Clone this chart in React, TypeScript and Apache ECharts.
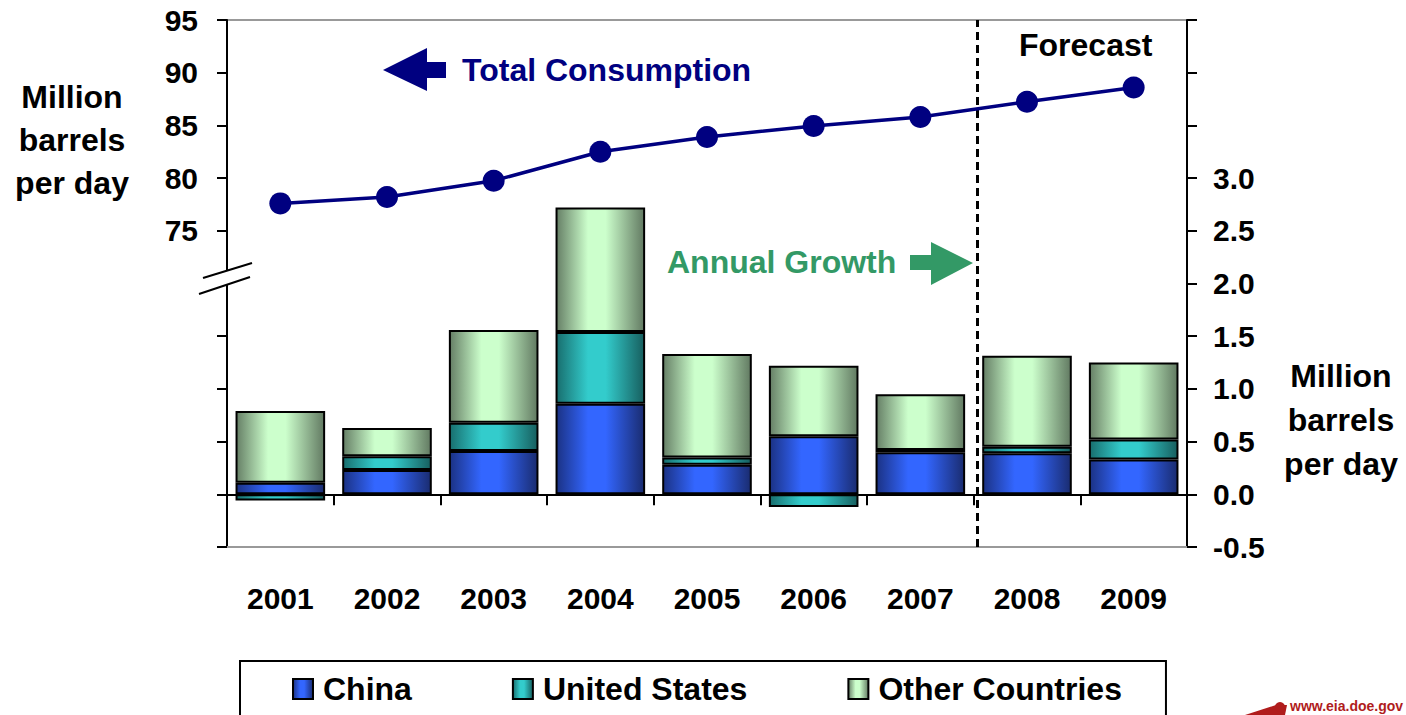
import React, { useEffect, useRef } from "react";
import * as echarts from "echarts";

// ---- data ----
const years = ["2001", "2002", "2003", "2004", "2005", "2006", "2007", "2008", "2009"];
const totalConsumption = [77.6, 78.2, 79.75, 82.5, 83.9, 84.95, 85.8, 87.25, 88.6];
const china = [0.11, 0.23, 0.41, 0.86, 0.28, 0.55, 0.4, 0.39, 0.33];
const unitedStates = [-0.06, 0.13, 0.27, 0.68, 0.07, -0.12, 0.02, 0.06, 0.19];
const otherCountries = [0.68, 0.27, 0.88, 1.18, 0.98, 0.67, 0.53, 0.865, 0.73];
const legendNames = ["China", "United States", "Other Countries"];
const leftAxis = [45, 95, 5]; // min, max, interval
const leftLabelFrom = 75;
const rightAxis = [-0.5, 4.5, 0.5];
const rightLabelTo = 3.0;
const forecastBoundary = 7.03; // between 2007 and 2008 (category units)

const FONT = '"Liberation Sans", Arial, sans-serif';

const grad = (l: string, m: string, r: string) =>
  new echarts.graphic.LinearGradient(0, 0, 1, 0, [
    { offset: 0, color: l },
    { offset: 0.36, color: m },
    { offset: 0.56, color: m },
    { offset: 1, color: r },
  ]);

export default function App() {
  const ref = useRef<HTMLDivElement>(null);
  useEffect(() => {
    if (!ref.current) return;
    const chart = echarts.init(ref.current, null, { renderer: "svg" });
    const barBase = {
      type: "bar",
      stack: "growth",
      xAxisIndex: 0,
      yAxisIndex: 1,
      barWidth: "84%",
    };
    const option: any = {
      animation: false,
      textStyle: { fontFamily: FONT },
      grid: {
        left: 227,
        right: 219,
        top: 20,
        bottom: 168,
        show: true,
        borderColor: "#999",
        borderWidth: 2,
        backgroundColor: "transparent",
      },
      legend: {
        data: legendNames,
        left: 240,
        top: 661,
        orient: "horizontal",
        icon: "rect",
        itemWidth: 20,
        itemHeight: 20,
        itemGap: 100,
        padding: [12, 44, 40, 52],
        borderColor: "#000",
        borderWidth: 2,
        selectedMode: false,
        textStyle: {
          fontSize: 32,
          fontWeight: "bold",
          color: "#000",
          fontFamily: FONT,
          padding: [0, 0, 0, 5],
        },
      },
      xAxis: [
        {
          type: "category",
          data: years,
          position: "bottom",
          axisLine: { onZero: true, onZeroAxisIndex: 1, lineStyle: { color: "#000", width: 2 } },
          axisTick: { show: true, inside: false, length: 11, lineStyle: { color: "#000", width: 2 } },
          axisLabel: { show: false },
          splitLine: { show: false },
        },
        {
          type: "category",
          data: years,
          position: "bottom",
          axisLine: { onZero: false, lineStyle: { color: "#999", width: 2 } },
          axisTick: { show: false },
          axisLabel: {
            show: true,
            margin: 36,
            fontSize: 30,
            fontWeight: "bold",
            color: "#000",
            fontFamily: FONT,
          },
          splitLine: { show: false },
        },
        { type: "value", min: 0, max: 9, show: false },
      ],
      yAxis: [
        {
          type: "value",
          position: "left",
          min: leftAxis[0],
          max: leftAxis[1],
          interval: leftAxis[2],
          axisLine: { show: true, lineStyle: { color: "#000", width: 2 } },
          axisTick: { show: true, length: 10, lineStyle: { color: "#000", width: 2 } },
          splitLine: { show: false },
          axisLabel: {
            margin: 29,
            fontSize: 30,
            fontWeight: "bold",
            color: "#000",
            fontFamily: FONT,
            formatter: (v: number) => (v >= leftLabelFrom ? String(v) : ""),
          },
        },
        {
          type: "value",
          position: "right",
          min: rightAxis[0],
          max: rightAxis[1],
          interval: rightAxis[2],
          axisLine: { show: true, lineStyle: { color: "#000", width: 2 } },
          axisTick: { show: true, length: 10, lineStyle: { color: "#000", width: 2 } },
          splitLine: { show: false },
          axisLabel: {
            margin: 26,
            fontSize: 30,
            fontWeight: "bold",
            color: "#000",
            fontFamily: FONT,
            formatter: (v: number) => (v <= rightLabelTo + 1e-9 ? v.toFixed(1) : ""),
          },
        },
      ],
      series: [
        {
          ...barBase,
          name: "China",
          data: china,
          itemStyle: { color: grad("#1b3284", "#3366ff", "#1a2c70"), borderColor: "#000", borderWidth: 2 },
        },
        {
          ...barBase,
          name: "United States",
          data: unitedStates,
          itemStyle: { color: grad("#186e6e", "#33cccc", "#175f5f"), borderColor: "#000", borderWidth: 2 },
        },
        {
          ...barBase,
          name: "Other Countries",
          data: otherCountries,
          itemStyle: { color: grad("#667f66", "#ccffcc", "#627a62"), borderColor: "#000", borderWidth: 2 },
        },
        {
          type: "line",
          name: "Total Consumption",
          xAxisIndex: 0,
          yAxisIndex: 0,
          data: totalConsumption,
          symbol: "circle",
          symbolSize: 22,
          lineStyle: { color: "#000080", width: 3.5 },
          itemStyle: { color: "#000080" },
          z: 5,
        },
        {
          type: "line",
          name: "forecastLine",
          xAxisIndex: 2,
          yAxisIndex: 1,
          data: [],
          z: 6,
          markLine: {
            silent: true,
            symbol: "none",
            label: { show: false },
            lineStyle: { color: "#000", width: 3, type: [8, 5] },
            data: [{ xAxis: forecastBoundary }],
          },
        },
      ],
      graphic: [
        // axis break
        {
          type: "polygon",
          z: 100,
          shape: { points: [[203, 278], [252, 263], [250, 277], [199, 294]] },
          style: { fill: "#fff", stroke: "none" },
        },
        { type: "line", z: 101, shape: { x1: 203, y1: 278, x2: 252, y2: 263 }, style: { stroke: "#000", lineWidth: 2 } },
        { type: "line", z: 101, shape: { x1: 199, y1: 294, x2: 250, y2: 277 }, style: { stroke: "#000", lineWidth: 2 } },
        // arrows
        {
          type: "polygon",
          z: 50,
          shape: { points: [[383, 70], [427, 48], [427, 62], [446, 62], [446, 78], [427, 78], [427, 91]] },
          style: { fill: "#000080" },
        },
        {
          type: "polygon",
          z: 50,
          shape: { points: [[973, 263], [931, 242], [931, 255], [910, 255], [910, 270], [931, 270], [931, 285]] },
          style: { fill: "#339966" },
        },
        // annotation texts
        {
          type: "text",
          z: 50,
          x: 462,
          y: 70,
          style: { text: "Total Consumption", fill: "#000080", font: `bold 32px ${FONT}`, align: "left", verticalAlign: "middle" },
        },
        {
          type: "text",
          z: 50,
          x: 667,
          y: 262,
          style: { text: "Annual Growth", fill: "#339966", font: `bold 32px ${FONT}`, align: "left", verticalAlign: "middle" },
        },
        {
          type: "text",
          z: 50,
          x: 1019,
          y: 45,
          style: { text: "Forecast", fill: "#000", font: `bold 32px ${FONT}`, align: "left", verticalAlign: "middle" },
        },
        {
          type: "text",
          z: 50,
          x: 72,
          y: 140,
          style: {
            text: "Million\nbarrels\nper day",
            fill: "#000",
            font: `bold 32px ${FONT}`,
            lineHeight: 43,
            align: "center",
            verticalAlign: "middle",
          },
        },
        {
          type: "text",
          z: 50,
          x: 1341,
          y: 420,
          style: {
            text: "Million\nbarrels\nper day",
            fill: "#000",
            font: `bold 32px ${FONT}`,
            lineHeight: 44,
            align: "center",
            verticalAlign: "middle",
          },
        },
        // source logo
        {
          type: "polygon",
          z: 50,
          shape: { points: [[1245, 715], [1276, 705], [1287, 705], [1285, 715]] },
          style: { fill: "#b01c1c" },
        },
        {
          type: "circle",
          z: 50,
          shape: { cx: 1280, cy: 707, r: 5 },
          style: { fill: "#b01c1c" },
        },
        {
          type: "text",
          z: 50,
          x: 1290,
          y: 699,
          style: { text: "www.eia.doe.gov", fill: "#b01c1c", font: `bold 14px ${FONT}`, align: "left", verticalAlign: "top" },
        },
      ],
    };
    chart.setOption(option);
    return () => chart.dispose();
  }, []);
  return (
    <div
      ref={ref}
      style={{ position: "absolute", left: 0, top: 0, width: 1406, height: 715, background: "#fff" }}
    />
  );
}
